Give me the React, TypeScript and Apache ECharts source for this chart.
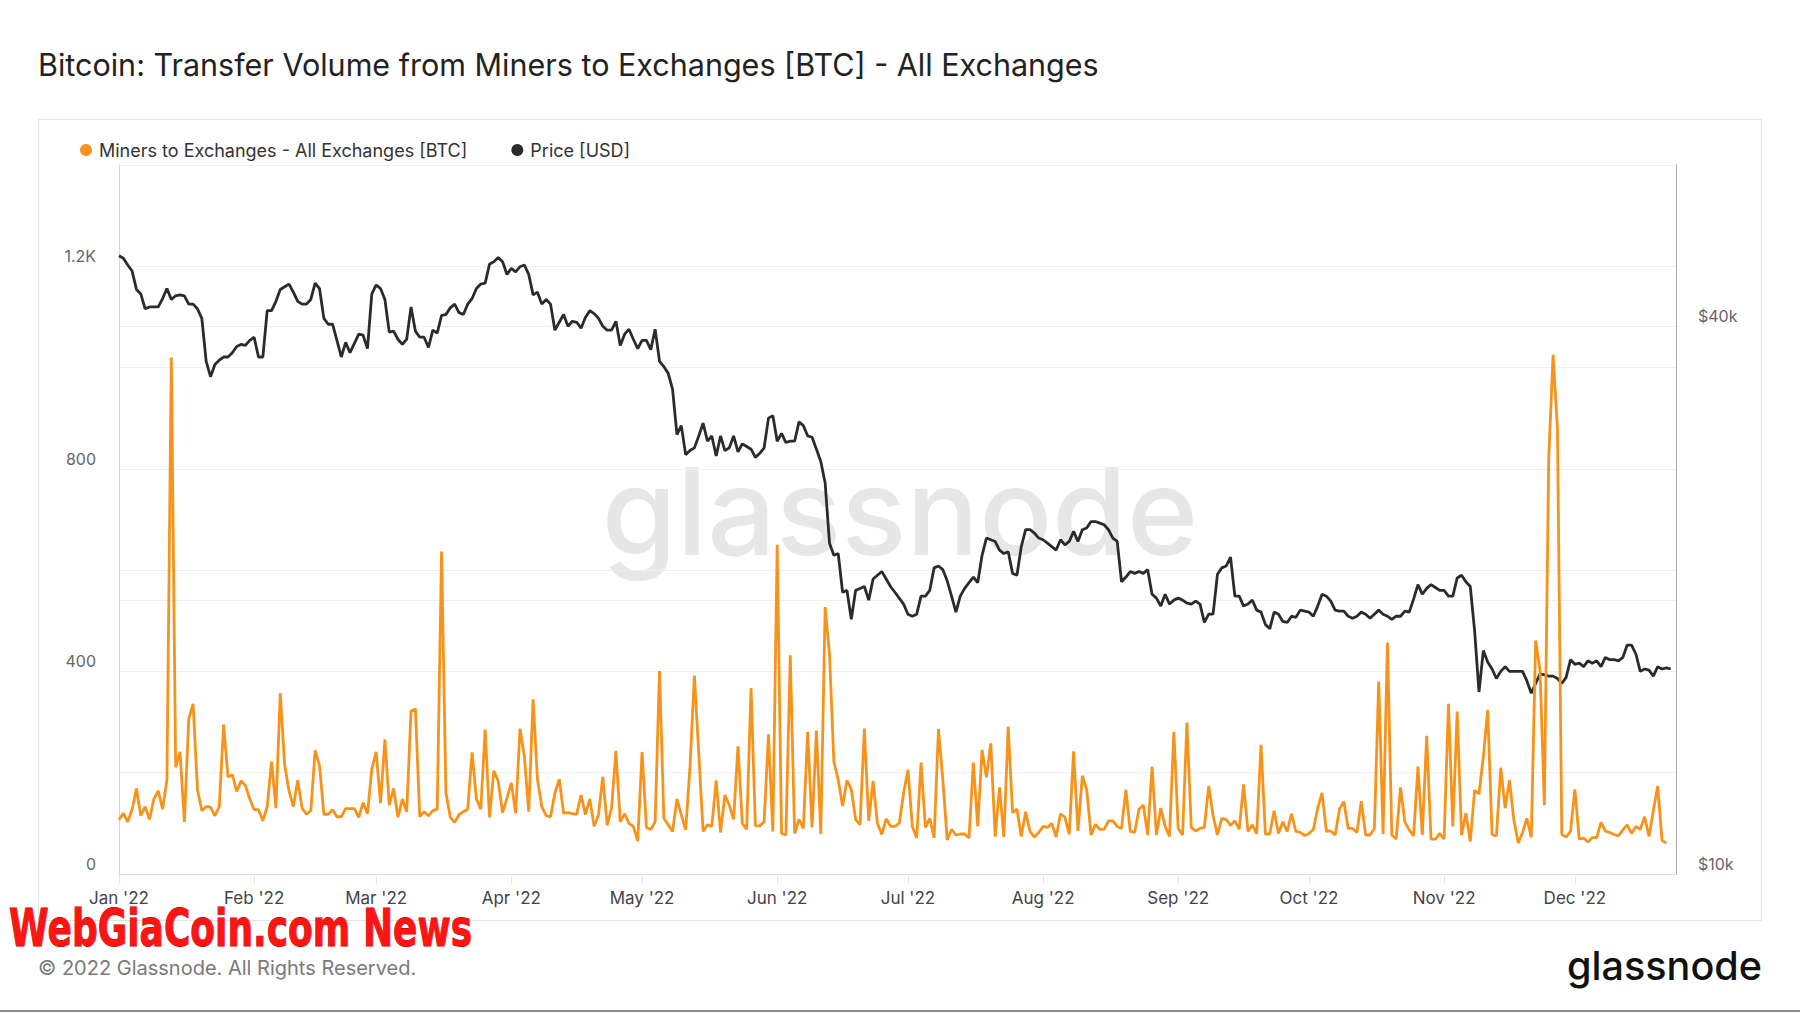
import React, { useEffect, useRef } from "react";
import * as echarts from "echarts";

// ---------- DATA ----------
const DAY = 86400000;
const START = Date.UTC(2022, 0, 1);

// Daily transfer volume from miners to exchanges [BTC], 2022-01-01 .. 2022-12-22
const minersToExchanges = [
  107, 120, 103, 127, 169, 115, 133, 108, 148, 164,
  128, 186, 1020, 211, 241, 103, 306, 336, 167, 125,
  133, 132, 115, 133, 295, 192, 196, 163, 184, 175,
  148, 127, 127, 105, 133, 222, 130, 357, 216, 164,
  133, 185, 130, 118, 125, 244, 214, 118, 118, 127,
  113, 113, 129, 129, 129, 112, 141, 119, 207, 241,
  140, 266, 136, 169, 112, 148, 123, 322, 326, 113,
  123, 115, 125, 128, 637, 160, 112, 102, 117, 123,
  128, 240, 148, 128, 285, 112, 204, 183, 121, 150,
  180, 120, 287, 232, 123, 345, 186, 133, 115, 113,
  160, 187, 120, 121, 119, 118, 156, 117, 148, 94,
  117, 192, 96, 130, 243, 103, 119, 100, 94, 65,
  241, 92, 88, 103, 401, 110, 97, 84, 148, 117,
  87, 212, 392, 239, 84, 97, 94, 185, 82, 156,
  136, 108, 252, 100, 88, 367, 95, 95, 103, 276,
  84, 650, 80, 77, 432, 80, 108, 90, 281, 92,
  283, 79, 527, 433, 222, 186, 134, 185, 167, 108,
  97, 287, 105, 184, 100, 78, 109, 94, 94, 100,
  160, 206, 94, 71, 220, 92, 110, 71, 286, 186,
  67, 88, 77, 79, 79, 71, 220, 94, 245, 191,
  258, 74, 171, 73, 291, 121, 128, 74, 123, 84,
  73, 82, 94, 92, 100, 73, 119, 112, 78, 242,
  85, 194, 167, 77, 98, 88, 88, 105, 105, 94,
  90, 166, 84, 82, 128, 136, 77, 212, 77, 130,
  94, 74, 281, 90, 77, 299, 92, 85, 90, 92,
  174, 115, 77, 110, 108, 96, 105, 88, 177, 84,
  97, 79, 255, 79, 79, 125, 80, 103, 84, 119,
  84, 82, 76, 80, 88, 130, 160, 84, 85, 77,
  128, 143, 90, 90, 82, 144, 77, 77, 90, 380,
  79, 457, 77, 69, 171, 103, 87, 75, 212, 77,
  273, 69, 69, 80, 69, 336, 94, 321, 77, 120,
  64, 165, 158, 232, 324, 78, 75, 210, 130, 185,
  107, 61, 82, 110, 72, 461, 403, 136, 820, 1025,
  880, 78, 73, 84, 167, 69, 71, 63, 72, 72,
  102, 85, 82, 78, 75, 87, 97, 80, 94, 88,
  113, 74, 125, 174, 66, 61,
];

// Daily BTC price [USD], 2022-01-01 .. 2022-12-23
const priceUsd = [
  47800, 47500, 46700, 46000, 43900, 43400, 41800, 42000, 42000, 42000,
  42900, 44000, 42800, 43200, 43300, 43200, 42300, 42300, 41800, 40800,
  36600, 35200, 36300, 36700, 37000, 37000, 37400, 38000, 38200, 38100,
  38600, 38900, 37000, 37000, 41600, 41600, 42600, 43900, 44200, 44500,
  43600, 42600, 42300, 42300, 42800, 44600, 44000, 40800, 40200, 40200,
  38600, 37000, 38400, 37400, 38300, 39200, 39100, 37800, 43400, 44400,
  44000, 42800, 39400, 39500, 38700, 38200, 38700, 42000, 39500, 38900,
  38900, 37900, 39600, 39300, 41100, 41200, 41900, 42300, 41400, 41200,
  42300, 42900, 44000, 44500, 44600, 46800, 47100, 47600, 47100, 45600,
  46300, 45900, 46500, 46700, 45600, 43300, 43600, 42300, 42800, 42300,
  39600, 40400, 41200, 40000, 40500, 40400, 39800, 40900, 41600, 41300,
  40800, 40000, 39600, 39600, 40500, 38100, 39200, 39700, 38700, 37800,
  38600, 38600, 37700, 39700, 36600, 36100, 35500, 34100, 30400, 31100,
  28900, 29200, 29400, 30300, 31300, 29900, 30300, 28800, 30300, 29200,
  29400, 30300, 29100, 29700, 29500, 29300, 28700, 29000, 29400, 31700,
  31900, 29900, 30500, 29800, 29900, 29900, 31400, 31100, 30300, 30200,
  29300, 28400, 26900, 23100, 22400, 22500, 20400, 20500, 19050, 20500,
  20600, 20700, 20000, 21100, 21300, 21500, 21100, 20700, 20400, 20100,
  19800, 19300, 19200, 19300, 20200, 20200, 20500, 21700, 21800, 21600,
  21000, 20200, 19400, 20200, 20600, 20900, 21200, 20900, 22400, 23400,
  23300, 23200, 22700, 22500, 22600, 21400, 21300, 22900, 23900, 23900,
  23700, 23400, 23300, 23100, 22900, 22700, 23300, 23000, 23200, 23800,
  23200, 23900, 24000, 24400, 24400, 24300, 24200, 23900, 23400, 23200,
  20950, 21200, 21500, 21400, 21500, 21400, 21600, 20300, 20100, 19700,
  20300, 19800, 20000, 20100, 20000, 19850, 19800, 19950, 19800, 18900,
  19300, 19300, 21350, 21700, 21800, 22300, 20200, 20200, 19700, 19800,
  20000, 19500, 19400, 18800, 18600, 19400, 19300, 18950, 18900, 19200,
  19150, 19500, 19450, 19400, 19200, 19700, 20300, 20200, 19950, 19500,
  19450, 19450, 19200, 19100, 19200, 19400, 19300, 19100, 19300, 19500,
  19300, 19200, 19050, 19200, 19200, 19450, 19400, 20050, 20800, 20300,
  20600, 20800, 20650, 20500, 20500, 20200, 20200, 21150, 21300, 20950,
  20700, 18500, 15850, 17600, 17100, 16800, 16400, 16700, 16900, 16700,
  16700, 16700, 16700, 16300, 15800, 16200, 16600, 16550, 16500, 16500,
  16400, 16200, 16450, 17200, 17000, 17050, 16900, 17150, 17050, 17150,
  16900, 17300, 17200, 17200, 17150, 17300, 17850, 17850, 17450, 16700,
  16800, 16750, 16500, 16900, 16800, 16850, 16800,
];

const monthLabels = ["Jan '22", "Feb '22", "Mar '22", "Apr '22", "May '22", "Jun '22", "Jul '22", "Aug '22", "Sep '22", "Oct '22", "Nov '22", "Dec '22"];
// day offsets (from 2022-01-01) of the first day of each month
const monthStartDays = monthLabels.map((_, i) => Math.round((Date.UTC(2022, i, 1) - START) / DAY));
const X_MAX_DAYS = 357.2;

const leftLabelValues = [0, 400, 800, 1200];
const leftLabelTexts = ["0", "400", "800", "1.2K"];
const rightGridValues = [10000, 20000, 40000];
const rightLabelValues = [10000, 40000];
const rightLabelTexts = ["$10k", "$40k"];

const SERIES_MINERS = "Miners to Exchanges - All Exchanges [BTC]";
const SERIES_PRICE = "Price [USD]";
const TITLE = "Bitcoin: Transfer Volume from Miners to Exchanges [BTC] - All Exchanges";

const ORANGE = "#f7931a";
const DARK = "#2b2b2b";
const FONT = "Inter, 'Noto Sans', sans-serif";

export default function App() {
  const ref = useRef<HTMLDivElement>(null);

  useEffect(() => {
    if (!ref.current) return;
    const chart = echarts.init(ref.current, null, { renderer: "svg" });

    const minersData = minersToExchanges.map((v, i) => [i, v]);
    const priceData = priceUsd.map((v, i) => [i, v]);

    chart.setOption({
      animation: false,
      backgroundColor: "#ffffff",
      textStyle: { fontFamily: FONT },
      grid: {
        left: 119,
        right: 124,
        top: 165,
        bottom: 139,
        containLabel: false,
        outerBoundsMode: "none",
      },
      legend: {
        data: [SERIES_MINERS, SERIES_PRICE],
        left: 80,
        top: 141,
        padding: 0,
        icon: "circle",
        itemWidth: 12,
        itemHeight: 12,
        itemGap: 44,
        selectedMode: false,
        textStyle: { fontSize: 18, color: "#333", fontFamily: FONT, padding: [0, 0, 0, 2] },
      },
      xAxis: {
        type: "value",
        min: 0,
        max: X_MAX_DAYS,
        axisLine: { show: true, lineStyle: { color: "#dcdcdc", width: 1 } },
        axisTick: {
          show: true,
          customValues: monthStartDays,
          length: 10,
          lineStyle: { color: "#e6e6e6" },
        },
        axisLabel: {
          customValues: monthStartDays,
          formatter: (v: number) => {
            const i = monthStartDays.indexOf(Math.round(v));
            return i >= 0 ? monthLabels[i] : "";
          },
          color: "#444",
          fontSize: 17,
          margin: 15,
          fontFamily: FONT,
        },
        splitLine: { show: false },
      },
      yAxis: [
        {
          type: "value",
          position: "left",
          min: 0,
          max: 1400,
          interval: 200,
          axisLine: { show: true, lineStyle: { color: "#fbd09c", width: 1 } },
          axisTick: { show: false },
          splitLine: { show: true, lineStyle: { color: "#efefef", width: 1 } },
          axisLabel: {
            formatter: (v: number) => {
              const i = leftLabelValues.indexOf(v);
              return i >= 0 ? leftLabelTexts[i] : "";
            },
            color: "#666",
            fontSize: 16,
            margin: 23,
            verticalAlign: "bottom",
            padding: [0, 0, 2, 0],
            fontFamily: FONT,
          },
        },
        {
          type: "log",
          logBase: 10,
          position: "right",
          min: 10000,
          max: 60150,
          axisLine: { show: true, lineStyle: { color: "#a8a8a8", width: 1 } },
          axisTick: { show: false, customValues: rightGridValues },
          splitLine: { show: true, lineStyle: { color: "#efefef", width: 1 } },
          axisLabel: {
            customValues: rightLabelValues,
            formatter: (v: number) => {
              const i = rightLabelValues.indexOf(Math.round(v));
              return i >= 0 ? rightLabelTexts[i] : "";
            },
            color: "#666",
            fontSize: 16,
            margin: 22,
            verticalAlign: "bottom",
            padding: [0, 0, 2, 0],
            fontFamily: FONT,
          },
        },
      ],
      series: [
        {
          name: SERIES_PRICE,
          type: "line",
          yAxisIndex: 1,
          data: priceData,
          showSymbol: false,
          symbol: "circle",
          color: DARK,
          lineStyle: { color: DARK, width: 2.8 },
          z: 3,
        },
        {
          name: SERIES_MINERS,
          type: "line",
          yAxisIndex: 0,
          data: minersData,
          showSymbol: false,
          symbol: "circle",
          color: ORANGE,
          lineStyle: { color: ORANGE, width: 2.8 },
          z: 4,
        },
      ],
      graphic: [
        {
          type: "rect",
          silent: true,
          z: -10,
          shape: { x: 38.5, y: 119.5, width: 1723, height: 801 },
          style: { fill: "none", stroke: "#e3e3e3", lineWidth: 1 },
        },
        {
          type: "text",
          silent: true,
          z: 0,
          style: {
            text: "glassnode",
            x: 900,
            y: 511,
            textAlign: "center",
            textVerticalAlign: "middle",
            font: "500 121px Inter, sans-serif",
            fill: "#e7e7e7",
          },
        },
        {
          type: "text",
          silent: true,
          style: {
            text: TITLE,
            x: 38,
            y: 64,
            textAlign: "left",
            textVerticalAlign: "middle",
            font: "400 30.5px Inter, sans-serif",
            fill: "#222",
          },
        },
        {
          type: "text",
          silent: true,
          style: {
            text: "© 2022 Glassnode. All Rights Reserved.",
            x: 38,
            y: 968,
            textAlign: "left",
            textVerticalAlign: "middle",
            font: "20px Inter, sans-serif",
            fill: "#7a7a7a",
          },
        },
        {
          type: "text",
          silent: true,
          style: {
            text: "glassnode",
            x: 1762,
            y: 966,
            textAlign: "right",
            textVerticalAlign: "middle",
            font: "500 39.6px Inter, sans-serif",
            fill: "#111",
          },
        },
        {
          type: "text",
          silent: true,
          z: 20,
          x: 9,
          y: 928,
          scaleX: 0.693,
          style: {
            text: "WebGiaCoin.com News",
            x: 0,
            y: 0,
            textAlign: "left",
            textVerticalAlign: "middle",
            lineHeight: 38,
            font: "bold 52px 'DejaVu Sans', sans-serif",
            fill: "#ff1414",
            stroke: "#b00000",
            lineWidth: 1,
          },
        },
        {
          type: "rect",
          silent: true,
          shape: { x: 0, y: 1010, width: 1800, height: 2 },
          style: { fill: "#8a8a8a" },
        },
      ],
    });

    return () => {
      chart.dispose();
    };
  }, []);

  return (
    <div
      ref={ref}
      style={{ position: "absolute", left: 0, top: 0, width: 1800, height: 1013, background: "#fff" }}
    />
  );
}
